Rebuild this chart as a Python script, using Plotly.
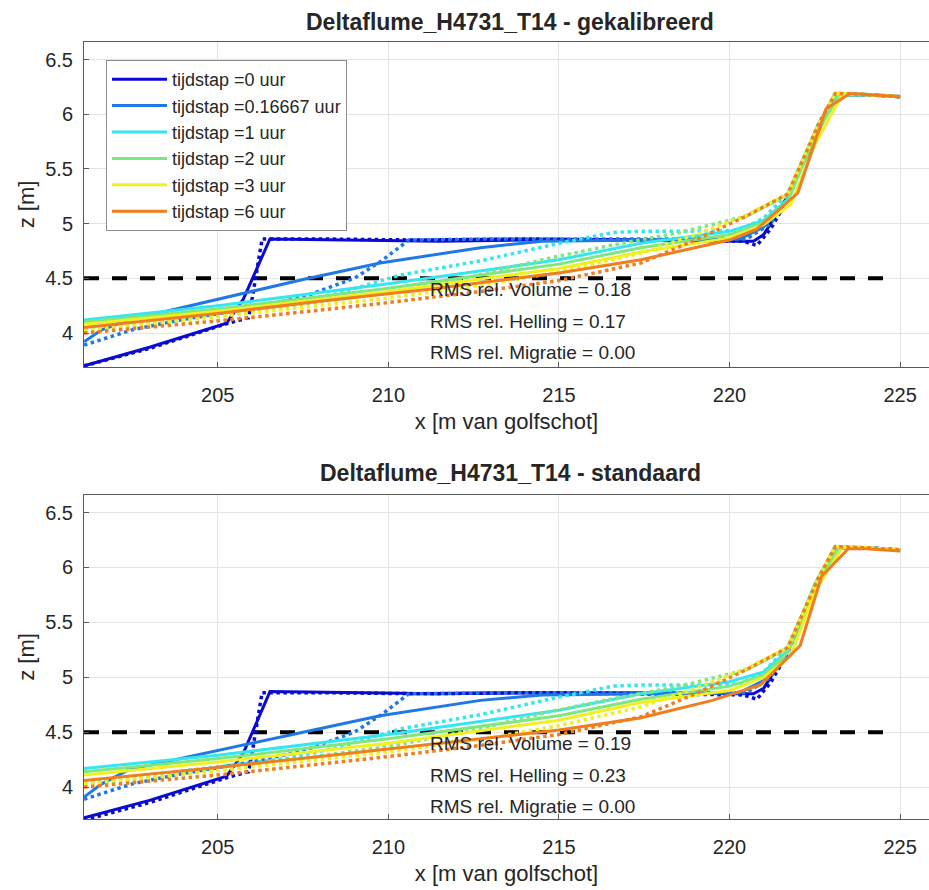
import plotly.graph_objects as go

# ---------------- data ----------------
labels = ["tijdstap =0 uur", "tijdstap =0.16667 uur", "tijdstap =1 uur",
          "tijdstap =2 uur", "tijdstap =3 uur", "tijdstap =6 uur"]
colors = ["#0a0ad2", "#1f78e6", "#33e6f2", "#80e680", "#f0f020", "#f07d1e"]

titles = ["Deltaflume_H4731_T14 - gekalibreerd", "Deltaflume_H4731_T14 - standaard"]
rms_top = ["RMS rel. Volume = 0.18", "RMS rel. Helling = 0.17", "RMS rel. Migratie = 0.00"]
rms_bot = ["RMS rel. Volume = 0.19", "RMS rel. Helling = 0.23", "RMS rel. Migratie = 0.00"]

ref_x = [201.08, 224.6]
ref_z = [4.5, 4.5]

# measured profiles (dotted), same in both panels
meas0_x = [201.08, 203.0, 205.3, 205.9, 206.0, 206.3, 208, 211, 214, 217, 220.4, 220.8, 221.2, 221.7, 222.6, 223.1, 224, 225]
meas0_z = [3.70, 3.86, 4.09, 4.14, 4.30, 4.86, 4.86, 4.85, 4.86, 4.85, 4.84, 4.80, 4.95, 5.22, 5.90, 6.18, 6.18, 6.16]
meas1_x = [201.08, 202.5, 203.9, 206.0, 207.5, 208.4, 209.0, 209.8, 210.6, 213, 216, 219, 220.5, 221.2, 221.7, 222.6, 223.1, 224, 225]
meas1_z = [3.89, 4.03, 4.12, 4.23, 4.33, 4.43, 4.50, 4.66, 4.85, 4.86, 4.86, 4.86, 4.86, 5.00, 5.24, 5.90, 6.18, 6.18, 6.16]
meas2_x = [201.08, 203, 205, 207, 208.5, 210.35, 212.7, 215, 216.6, 217.4, 219, 220.3, 221.0, 221.7, 222.6, 223.1, 224, 225]
meas2_z = [4.04, 4.11, 4.18, 4.26, 4.36, 4.53, 4.66, 4.82, 4.92, 4.93, 4.93, 4.94, 5.05, 5.27, 5.90, 6.19, 6.18, 6.16]
meas3_x = [201.08, 205, 210, 212.5, 214.65, 216.5, 218.56, 220.5, 221.7, 222.6, 223.1, 224, 225]
meas3_z = [4.02, 4.16, 4.37, 4.52, 4.68, 4.80, 4.92, 5.07, 5.26, 5.90, 6.19, 6.18, 6.16]
meas4_x = [201.08, 205, 210, 213, 215, 217.4, 219, 220.5, 221.7, 222.6, 223.1, 224, 225]
meas4_z = [4.03, 4.15, 4.32, 4.45, 4.56, 4.73, 4.90, 5.08, 5.27, 5.90, 6.19, 6.18, 6.16]
meas5_x = [201.08, 205.3, 209.76, 212.7, 215, 217.4, 219, 220.5, 221.7, 222.6, 223.1, 224, 225]
meas5_z = [4.00, 4.12, 4.27, 4.38, 4.48, 4.64, 4.85, 5.07, 5.27, 5.90, 6.19, 6.18, 6.16]

# model profiles (solid) - gekalibreerd
kal0_x = [201.08, 203, 205.26, 205.75, 206.53, 209, 211.5, 214, 217, 220.3, 220.7, 221.0, 221.7, 222.6, 223.1, 224, 225]
kal0_z = [3.70, 3.87, 4.09, 4.31, 4.86, 4.85, 4.84, 4.85, 4.85, 4.84, 4.84, 4.90, 5.25, 5.84, 6.17, 6.18, 6.16]
kal1_x = [201.08, 201.6, 202.4, 205, 207.5, 209.76, 212.7, 214.5, 217, 220.3, 221.0, 221.7, 222.6, 223.1, 224, 225]
kal1_z = [3.92, 4.03, 4.12, 4.31, 4.49, 4.64, 4.78, 4.84, 4.85, 4.86, 4.97, 5.23, 5.85, 6.17, 6.18, 6.16]
kal2_x = [201.08, 205, 210, 215, 217.4, 220, 221, 221.7, 222.5, 223.1, 224, 225]
kal2_z = [4.12, 4.25, 4.45, 4.67, 4.82, 4.93, 5.03, 5.22, 5.82, 6.17, 6.18, 6.16]
kal3_x = [201.08, 205, 210, 215, 217.4, 220, 221, 221.7, 222.5, 223.2, 224, 225]
kal3_z = [4.10, 4.22, 4.41, 4.63, 4.78, 4.90, 5.01, 5.20, 5.80, 6.17, 6.18, 6.16]
kal4_x = [201.08, 205, 210, 215, 217.4, 220, 221, 221.8, 222.5, 223.3, 224, 225]
kal4_z = [4.08, 4.20, 4.38, 4.59, 4.74, 4.87, 4.99, 5.18, 5.72, 6.18, 6.18, 6.16]
kal5_x = [201.08, 205, 208, 211.2, 215, 217.4, 220.0, 220.8, 222.0, 222.83, 223.53, 224, 225]
kal5_z = [4.05, 4.18, 4.29, 4.40, 4.55, 4.67, 4.85, 4.95, 5.28, 6.05, 6.19, 6.18, 6.16]

# model profiles (solid) - standaard
std0_x = kal0_x
std0_z = [3.72, 3.88, 4.10, 4.31, 4.87, 4.86, 4.85, 4.86, 4.86, 4.85, 4.85, 4.90, 5.25, 5.84, 6.17, 6.18, 6.16]
std1_x = [201.08, 201.6, 202.4, 205, 207.5, 209.76, 212.7, 214.5, 217, 220.3, 221.0, 221.7, 222.6, 223.1, 224, 225]
std1_z = [3.91, 4.03, 4.16, 4.33, 4.50, 4.65, 4.79, 4.84, 4.85, 4.86, 4.97, 5.23, 5.85, 6.17, 6.18, 6.16]
std2_x = [201.08, 205, 210, 215, 217.4, 220, 221, 221.7, 222.5, 223.1, 224, 225]
std2_z = [4.17, 4.29, 4.48, 4.70, 4.85, 4.96, 5.05, 5.24, 5.85, 6.18, 6.18, 6.16]
std3_x = [201.08, 205, 210, 215, 217.4, 220, 221, 221.7, 222.5, 223.2, 224, 225]
std3_z = [4.14, 4.26, 4.44, 4.65, 4.80, 4.92, 5.02, 5.22, 5.82, 6.18, 6.18, 6.16]
std4_x = [201.08, 205, 210, 215, 217.4, 220, 221, 221.8, 222.5, 223.3, 224, 225]
std4_z = [4.11, 4.23, 4.40, 4.61, 4.77, 4.88, 5.00, 5.20, 5.78, 6.18, 6.18, 6.16]
std5_x = [201.08, 205, 208, 211.2, 215, 217.38, 219.5, 220.9, 222.07, 222.7, 223.48, 224, 225]
std5_z = [4.06, 4.18, 4.28, 4.39, 4.52, 4.63, 4.79, 4.93, 5.29, 5.92, 6.17, 6.17, 6.15]

meas = [(meas0_x, meas0_z), (meas1_x, meas1_z), (meas2_x, meas2_z),
        (meas3_x, meas3_z), (meas4_x, meas4_z), (meas5_x, meas5_z)]
kal = [(kal0_x, kal0_z), (kal1_x, kal1_z), (kal2_x, kal2_z),
       (kal3_x, kal3_z), (kal4_x, kal4_z), (kal5_x, kal5_z)]
std = [(std0_x, std0_z), (std1_x, std1_z), (std2_x, std2_z),
       (std3_x, std3_z), (std4_x, std4_z), (std5_x, std5_z)]

# ---------------- figure ----------------
W, H = 929, 890
FONT = "Liberation Sans, Arial, Helvetica, sans-serif"
TXT = "#262626"

fig = go.Figure()

panels = [("x", "y", kal, True), ("x2", "y2", std, False)]
for xa, ya, model, show in panels:
    fig.add_trace(go.Scatter(x=ref_x, y=ref_z, mode="lines", xaxis=xa, yaxis=ya,
                             line=dict(color="black", width=4, dash="15px,13px"),
                             showlegend=False, hoverinfo="skip"))
    for i in range(6):
        mx, mz = meas[i]
        fig.add_trace(go.Scatter(x=mx, y=mz, mode="lines", xaxis=xa, yaxis=ya,
                                 line=dict(color=colors[i], width=3.5, dash="dot"),
                                 showlegend=False))
        sx, sz = model[i]
        fig.add_trace(go.Scatter(x=sx, y=sz, mode="lines", xaxis=xa, yaxis=ya,
                                 line=dict(color=colors[i], width=3),
                                 name=labels[i], showlegend=show))

xr = [201.08, 201.08 + 845 / 34.12]
ax_common = dict(showgrid=True, gridcolor="#e3e3e3", gridwidth=1,
                 showline=True, linecolor="#5a5a5a", linewidth=1,
                 ticks="inside", ticklen=5, tickcolor="#5a5a5a",
                 tickfont=dict(family=FONT, size=20, color=TXT),
                 zeroline=False)
xdom = [84 / W, 1.0]
title_font = dict(size=22, family=FONT, color=TXT)
fig.update_layout(
    width=W, height=H, margin=dict(l=0, r=0, t=0, b=0),
    paper_bgcolor="white", plot_bgcolor="white",
    font=dict(family=FONT, color=TXT),
    xaxis=dict(domain=xdom, range=xr, anchor="y", tickvals=[205, 210, 215, 220, 225],
               mirror=True, ticklabelstandoff=10,
               title=dict(text="x [m van golfschot]", font=title_font, standoff=8),
               **ax_common),
    yaxis=dict(domain=[1 - 367 / H, 1 - 42 / H], range=[3.69, 6.66], anchor="x",
               tickvals=[4, 4.5, 5, 5.5, 6, 6.5], ticktext=["4", "4.5", "5", "5.5", "6", "6.5"],
               ticklabelstandoff=6,
               title=dict(text="z [m]", font=title_font, standoff=4),
               **ax_common),
    xaxis2=dict(domain=xdom, range=xr, anchor="y2", tickvals=[205, 210, 215, 220, 225],
                mirror=True, ticklabelstandoff=10,
                title=dict(text="x [m van golfschot]", font=title_font, standoff=8),
                **ax_common),
    yaxis2=dict(domain=[1 - 819 / H, 1 - 495 / H], range=[3.71, 6.66], anchor="x2",
                tickvals=[4, 4.5, 5, 5.5, 6, 6.5], ticktext=["4", "4.5", "5", "5.5", "6", "6.5"],
                ticklabelstandoff=6,
                title=dict(text="z [m]", font=title_font, standoff=4),
                **ax_common),
    legend=dict(x=106 / W, y=1 - 60 / H, xanchor="left", yanchor="top",
                bgcolor="white", bordercolor="#8c8c8c", borderwidth=1,
                font=dict(family=FONT, size=18, color=TXT), tracegroupgap=0,
                itemwidth=55),
)

# titles
for ttl, yp in [(titles[0], 22), (titles[1], 473)]:
    fig.add_annotation(text="<b>" + ttl + "</b>", xref="paper", yref="paper",
                       x=(84 + 936) / 2 / W, y=1 - yp / H, showarrow=False,
                       font=dict(family=FONT, size=23, color=TXT),
                       xanchor="center", yanchor="middle")

# RMS texts
for txts, xa, ya, ys in [(rms_top, "x", "y", [4.40, 4.11, 3.82]),
                         (rms_bot, "x2", "y2", [4.40, 4.11, 3.82])]:
    for t, yy in zip(txts, ys):
        fig.add_annotation(text=t, x=211.16, y=yy, xref=xa, yref=ya, showarrow=False,
                           xanchor="left", yanchor="middle",
                           font=dict(family=FONT, size=19, color=TXT))

fig.write_html("out.html")
